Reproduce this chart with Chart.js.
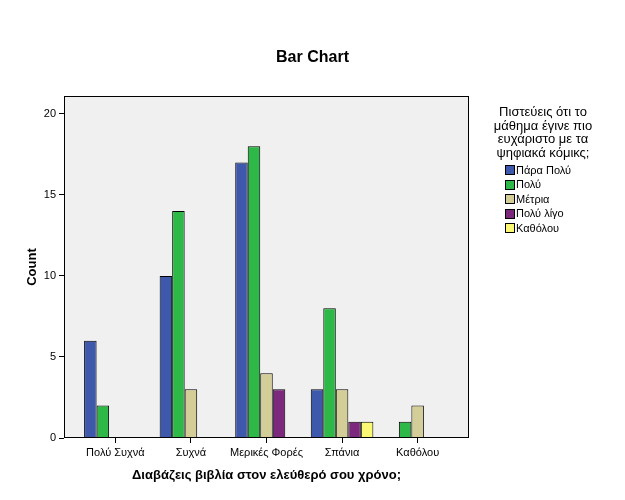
<!DOCTYPE html>
<html>
<head>
<meta charset="utf-8">
<script src="https://cdn.jsdelivr.net/npm/chart.js@4"></script>
<style>
  body { margin: 0; background: #fff; }
  #wrap { position: relative; width: 625px; height: 500px; }
  #legend { position: absolute; left: 482px; top: 105px; width: 122px; font-family: 'Liberation Sans', Arial, sans-serif; color: #000; }
  #legend .ttl { text-align: center; font-size: 13px; line-height: 13.5px; margin-bottom: 3.75px; }
  #legend .item { display: flex; align-items: center; height: 14.5px; font-size: 11px; line-height: 14.5px; white-space: nowrap; padding-left: 23px; }
  #legend .box { width: 8px; height: 8px; border: 1px solid #000; margin-right: 1px; flex: none; }
</style>
</head>
<body>
<div id="wrap">
  <canvas id="chart" width="625" height="500"></canvas>
  <div id="legend"></div>
</div>
<script>
const categories = ['Πολύ Συχνά', 'Συχνά', 'Μερικές Φορές', 'Σπάνια', 'Καθόλου'];
const seriesNames = ['Πάρα Πολύ', 'Πολύ', 'Μέτρια', 'Πολύ λίγο', 'Καθόλου'];
const paraPoly  = [6, 10, 17, 3, 0];
const poly      = [2, 14, 18, 8, 1];
const metria    = [0, 3, 4, 3, 2];
const polyLigo  = [0, 0, 3, 1, 0];
const katholou  = [0, 0, 0, 1, 0];
const yTicks = [0, 5, 10, 15, 20];
const colors = ['#3E58AC', '#2EB848', '#D3CE97', '#7C287D', '#FBF873'];
const legendTitle = ['Πιστεύεις ότι το', 'μάθημα έγινε πιο', 'ευχάριστο με τα', 'ψηφιακά κόμικς;'];

const FONT = "'Liberation Sans', Arial, sans-serif";
const allSeries = [paraPoly, poly, metria, polyLigo, katholou];

// plot background + frame like SPSS
const frame = {
  id: 'frame',
  beforeDatasetsDraw(chart) {
    const { ctx, chartArea: a } = chart;
    ctx.save();
    ctx.fillStyle = '#F0F0F0';
    ctx.fillRect(a.left, a.top, a.right - a.left, a.bottom - a.top);
    ctx.restore();
  },
  afterDatasetsDraw(chart) {
    const { ctx, chartArea: a } = chart;
    ctx.save();
    ctx.strokeStyle = '#000';
    ctx.lineWidth = 1;
    ctx.strokeRect(Math.round(a.left) + 0.5, Math.round(a.top) + 0.5,
      Math.round(a.right - a.left) - 1, Math.round(a.bottom - a.top) - 1);
    ctx.restore();
  }
};

new Chart(document.getElementById('chart'), {
  type: 'bar',
  data: {
    datasets: allSeries.map((vals, i) => ({
      label: seriesNames[i],
      data: vals.map((v, j) => ({ x: j, y: v })),
      backgroundColor: colors[i],
      borderColor: '#000',
      borderWidth: 1,
      categoryPercentage: 0.828,
      barPercentage: 1
    }))
  },
  options: {
    responsive: false,
    animation: false,
    layout: { padding: 0 },
    plugins: {
      legend: { display: false },
      tooltip: { enabled: false },
      title: {
        display: true, text: 'Bar Chart', color: '#000',
        font: { family: FONT, size: 16, weight: 'bold' },
        padding: { top: 48, bottom: 28.8 }
      }
    },
    scales: {
      x: {
        type: 'linear', min: -0.68, max: 4.68, offset: false,
        afterBuildTicks: s => { s.ticks = categories.map((_, i) => ({ value: i })); },
        afterFit: s => { s.height = 62; },
        ticks: { color: '#000', padding: 3, autoSkip: false, maxRotation: 0,
          font: { family: FONT, size: 11 }, callback: v => categories[v] },
        grid: { offset: false, drawOnChartArea: false, drawTicks: true, tickLength: 5, color: '#000' },
        border: { display: false },
        title: { display: true, text: 'Διαβάζεις βιβλία στον ελεύθερό σου χρόνο;', color: '#000',
          font: { family: FONT, size: 13, weight: 'bold' }, padding: { top: 0, bottom: 17 } }
      },
      y: {
        min: 0, max: 21.1,
        afterBuildTicks: s => { s.ticks = yTicks.map(v => ({ value: v })); },
        afterFit: s => { s.width = 64; },
        ticks: { color: '#000', padding: 3, font: { family: FONT, size: 11 } },
        grid: { drawOnChartArea: false, drawTicks: true, tickLength: 5, color: '#000' },
        border: { display: false },
        title: { display: true, text: 'Count', color: '#000',
          font: { family: FONT, size: 13, weight: 'bold' }, padding: { top: 25, bottom: 0 } }
      },
      // empty space on the right that holds the html legend
      side: {
        position: 'right', display: true,
        afterFit: s => { s.width = 156; },
        ticks: { display: false },
        grid: { display: false },
        border: { display: false }
      }
    }
  },
  plugins: [frame]
});

// legend on the right, built from the same arrays
const lg = document.getElementById('legend');
const t = document.createElement('div');
t.className = 'ttl';
t.innerHTML = legendTitle.join('<br>');
lg.appendChild(t);
seriesNames.forEach((name, i) => {
  const row = document.createElement('div');
  row.className = 'item';
  const b = document.createElement('span');
  b.className = 'box';
  b.style.background = colors[i];
  row.appendChild(b);
  row.appendChild(document.createTextNode(name));
  lg.appendChild(row);
});
</script>
</body>
</html>
